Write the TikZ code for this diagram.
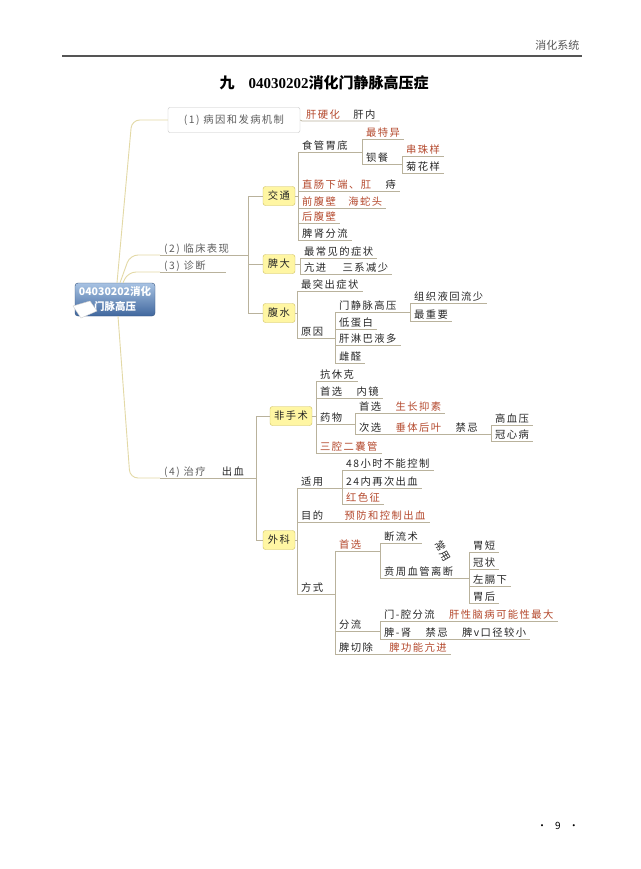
\documentclass[tikz,border=0pt]{standalone}
\usepackage{fontspec}
\setmainfont{Noto Sans CJK SC}
\newfontfamily\cjk[LetterSpace=14]{Noto Sans CJK SC}
\newfontfamily\numfont{Liberation Serif}
\definecolor{inkblack}{HTML}{262626}
\definecolor{inkred}{HTML}{B4482C}
\definecolor{lncol}{HTML}{B9B29C}
\definecolor{trunkcol}{HTML}{E3D9A6}
\definecolor{boxfill}{HTML}{FFF6A3}
\definecolor{boxedge}{HTML}{CDBF5E}
\definecolor{lvgray}{HTML}{5E5E5E}
\definecolor{rulegray}{HTML}{555555}
\definecolor{roottop}{HTML}{A8C3E3}
\definecolor{rootbot}{HTML}{40679E}
\newcommand{\lblfont}{\cjk\fontsize{10.3}{12}\selectfont}
\begin{document}
\begin{tikzpicture}[x=1pt, y=-1pt,
  lbl/.style={anchor=south west, inner xsep=4pt, inner ysep=1pt, text height=8pt, text depth=1.5pt, font=\lblfont, text=inkblack},
  hot/.style={lbl, text=inkred},
  ybox/.style={draw=boxedge, fill=boxfill, rounded corners=2.5pt, minimum width=32pt, minimum height=19pt, inner xsep=3pt, inner ysep=0pt, font=\lblfont, text=inkblack},
  gbox/.style={draw=gray!45, fill=white, rounded corners=2pt, minimum width=132pt, minimum height=25pt, font=\lblfont, text=lvgray},
  rootbox/.style={draw=rootbot!80!black, top color=roottop, bottom color=rootbot, rounded corners=3pt, minimum width=80pt, minimum height=33pt, align=center, text=white, font=\bfseries\fontsize{10.5}{15}\selectfont},
  ln/.style={draw=lncol, line width=0.7pt},
  trunk/.style={draw=trunkcol, line width=0.9pt, rounded corners=8pt}]
\useasboundingbox (0,0) rectangle (640,869);
\fill[white] (0,0) rectangle (640,869);
\node[anchor=east, font=\fontsize{11}{13}\selectfont, text=rulegray] (hdr) at (583,45) {消化系统};
\draw[rulegray, line width=1.3pt] (62,56) -- (582,56);
\node[font=\bfseries\fontsize{15}{18}\selectfont] (title) at (324,83) {九\hspace{14pt}{\numfont 04030202}消化门静脉高压症};
\node[font=\fontsize{10}{12}\selectfont] (pg) at (558,826) {·\hspace{8pt}9\hspace{8pt}·};
\node[rootbox] (root) at (115,299.5) {04030202消化\\门脉高压};
\filldraw[fill=white, draw=gray!40] (73,306) -- (90,301) -- (97,311) -- (81,318) -- cycle;
\node[gbox] (c1) at (234,120) {(1)\ 病因和发病机制};
\node[lbl, text=lvgray] (c2) at (160,255) {(2)\ 临床表现};
\node[lbl, text=lvgray] (c3) at (160,272) {(3)\ 诊断};
\coordinate (e3) at (226,272);
\node[lbl, text=lvgray] (c4) at (160,478) {(4)\ 治疗};
\node[lbl] (cx) at ([xshift=8pt]c4.south east) {出血};
\coordinate (b2) at (248,255);
\coordinate (b4) at (256,478);
\draw[trunk] ([xshift=2pt]root.north) -- ([xshift=-36pt]c1.west) -- (c1.west);
\draw[trunk] ([xshift=5pt]root.north) -- ([xshift=-30pt]c2.south west) -- (c2.south west);
\draw[trunk] ([xshift=8pt]root.north) -- ([xshift=-32pt]c3.south west) -- (c3.south west);
\draw[trunk] ([xshift=3pt]root.south) -- ([xshift=-30pt]c4.south west) -- (c4.south west);
\draw[ln] (c2.south west) -- (b2);
\draw[ln] (c3.south west) -- (e3);
\draw[ln] (c4.south west) -- (b4);
\node[hot] (gy) at (302,121) {肝硬化};
\node[lbl] (gn) at ([xshift=5pt]gy.south east) {肝内};
\draw[ln] (c1.east) -- (gy.south west) -- (gn.south east);
\node[ybox] (jt) at (279,196) {交通};
\node[ybox] (pd) at (279,264) {脾大};
\node[ybox] (fs) at (279,313) {腹水};
\draw[ln] (b2) |- (jt.west);
\draw[ln] (b2) |- (pd.west);
\draw[ln] (b2) |- (fs.west);
\node[lbl] (jt1) at (298,152) {食管胃底};
\node[hot] (jt2) at (298,191) {直肠下端、肛};
\node[lbl] (jt2b) at ([xshift=6pt]jt2.south east) {痔};
\node[hot] (jt3) at (298,208) {前腹壁};
\node[hot] (jt3b) at ([xshift=4pt]jt3.south east) {海蛇头};
\node[hot] (jt4) at (298,223) {后腹壁};
\node[lbl] (jt5) at (298,240) {脾肾分流};
\draw[ln] (jt.east) -| (jt1.south west) -- (jt1.south east);
\draw[ln] (jt.east) -| (jt2.south west) -- (jt2b.south east);
\draw[ln] (jt.east) -| (jt3.south west) -- (jt3b.south east);
\draw[ln] (jt.east) -| (jt4.south west) -- (jt4.south east);
\draw[ln] (jt.east) -| (jt5.south west) -- (jt5.south east);
\node[hot] (s1) at (362,139) {最特异};
\node[lbl] (s2) at (362,164) {钡餐};
\node[hot] (s3) at (402,156) {串珠样};
\node[lbl] (s4) at (402,173) {菊花样};
\draw[ln] (jt1.south east) -| (s1.south west) -- (s1.south east);
\draw[ln] (jt1.south east) -| (s2.south west) -- (s2.south east);
\draw[ln] (s2.south east) -| (s3.south west) -- (s3.south east);
\draw[ln] (s2.south east) -| (s4.south west) -- (s4.south east);
\node[lbl] (p1) at (300,258) {最常见的症状};
\node[lbl] (p2) at (300,274) {亢进};
\node[lbl] (p2b) at ([xshift=8pt]p2.south east) {三系减少};
\draw[ln] (pd.east) -| (p1.south west) -- (p1.south east);
\draw[ln] (pd.east) -| (p2.south west) -- (p2b.south east);
\node[lbl] (f1) at (297,291) {最突出症状};
\node[lbl] (f2) at (297,338) {原因};
\draw[ln] (fs.east) -| (f1.south west) -- (f1.south east);
\draw[ln] (fs.east) -| (f2.south west) -- (f2.south east);
\node[lbl] (r1) at (335,312) {门静脉高压};
\node[lbl] (r2) at (335,329) {低蛋白};
\node[lbl] (r3) at (335,345) {肝淋巴液多};
\node[lbl] (r4) at (335,363) {雌醛};
\draw[ln] (f2.south east) -| (r1.south west) -- (r1.south east);
\draw[ln] (f2.south east) -| (r2.south west) -- (r2.south east);
\draw[ln] (f2.south east) -| (r3.south west) -- (r3.south east);
\draw[ln] (f2.south east) -| (r4.south west) -- (r4.south east);
\node[lbl] (m1) at (410,303) {组织液回流少};
\node[lbl] (m2) at (410,321) {最重要};
\draw[ln] (r1.south east) -| (m1.south west) -- (m1.south east);
\draw[ln] (r1.south east) -| (m2.south west) -- (m2.south east);
\node[ybox, minimum width=42pt] (fss) at (291,416) {非手术};
\node[ybox] (wk) at (279,540) {外科};
\draw[ln] (b4) |- (fss.west);
\draw[ln] (b4) |- (wk.west);
\node[lbl] (n1) at (316,381) {抗休克};
\node[lbl] (n2) at (316,398) {首选};
\node[lbl] (n2b) at ([xshift=6pt]n2.south east) {内镜};
\node[lbl] (n3) at (316,424) {药物};
\node[hot] (n4) at (316,453) {三腔二囊管};
\draw[ln] (fss.east) -| (n1.south west) -- (n1.south east);
\draw[ln] (fss.east) -| (n2.south west) -- (n2b.south east);
\draw[ln] (fss.east) -| (n3.south west) -- (n3.south east);
\draw[ln] (fss.east) -| (n4.south west) -- (n4.south east);
\node[lbl] (d1) at (355,413) {首选};
\node[hot] (d1b) at ([xshift=6pt]d1.south east) {生长抑素};
\node[lbl] (d2) at (355,434) {次选};
\node[hot] (d2b) at ([xshift=6pt]d2.south east) {垂体后叶};
\node[lbl] (d2c) at ([xshift=6pt]d2b.south east) {禁忌};
\draw[ln] (n3.south east) -| (d1.south west) -- (d1b.south east);
\draw[ln] (n3.south east) -| (d2.south west) -- (d2c.south east);
\node[lbl] (k1) at (491,425) {高血压};
\node[lbl] (k2) at (491,441) {冠心病};
\draw[ln] (d2c.south east) -| (k1.south west) -- (k1.south east);
\draw[ln] (d2c.south east) -| (k2.south west) -- (k2.south east);
\node[lbl] (w1) at (297,488) {适用};
\node[lbl] (w2) at (297,522) {目的};
\node[hot] (w2b) at ([xshift=13pt]w2.south east) {预防和控制出血};
\node[lbl] (w3) at (297,594) {方式};
\draw[ln] (wk.east) -| (w1.south west) -- (w1.south east);
\draw[ln] (wk.east) -| (w2.south west) -- (w2b.south east);
\draw[ln] (wk.east) -| (w3.south west) -- (w3.south east);
\node[lbl] (y1) at (342,470) {48小时不能控制};
\node[lbl] (y2) at (342,488) {24内再次出血};
\node[hot] (y3) at (342,504) {红色征};
\draw[ln] (w1.south east) -| (y1.south west) -- (y1.south east);
\draw[ln] (w1.south east) -| (y2.south west) -- (y2.south east);
\draw[ln] (w1.south east) -| (y3.south west) -- (y3.south east);
\node[hot] (x1) at (335,551) {首选};
\node[lbl] (x2) at (335,631) {分流};
\node[lbl] (x3) at (335,654) {脾切除};
\node[hot] (x3b) at ([xshift=8pt]x3.south east) {脾功能亢进};
\draw[ln] (w3.south east) -| (x1.south west) -- (x1.south east);
\draw[ln] (w3.south east) -| (x2.south west) -- (x2.south east);
\draw[ln] (w3.south east) -| (x3.south west) -- (x3b.south east);
\node[lbl] (q1) at (380,543) {断流术};
\node[lbl] (q2) at (380,578) {贲周血管离断};
\node[font=\lblfont, text=inkblack, rotate=-60, inner sep=0pt] (cy) at (443,551) {常用};
\draw[ln] (x1.south east) -| (q1.south west) -- (q1.south east);
\draw[ln] (x1.south east) -| (q2.south west) -- (q2.south east);
\node[lbl] (g1) at (469,552) {胃短};
\node[lbl] (g2) at (469,569) {冠状};
\node[lbl] (g3) at (469,586) {左膈下};
\node[lbl] (g4) at (469,603) {胃后};
\draw[ln] (q2.south east) -| (g1.south west) -- (g1.south east);
\draw[ln] (q2.south east) -| (g2.south west) -- (g2.south east);
\draw[ln] (q2.south east) -| (g3.south west) -- (g3.south east);
\draw[ln] (q2.south east) -| (g4.south west) -- (g4.south east);
\node[lbl] (h1) at (380,621) {门-腔分流};
\node[hot] (h1b) at ([xshift=6pt]h1.south east) {肝性脑病可能性最大};
\node[lbl] (h2) at (380,639) {脾-肾};
\node[lbl] (h2b) at ([xshift=6pt]h2.south east) {禁忌};
\node[lbl] (h2c) at ([xshift=6pt]h2b.south east) {脾v口径较小};
\draw[ln] (x2.south east) -| (h1.south west) -- (h1b.south east);
\draw[ln] (x2.south east) -| (h2.south west) -- (h2c.south east);
\end{tikzpicture}
\end{document}
